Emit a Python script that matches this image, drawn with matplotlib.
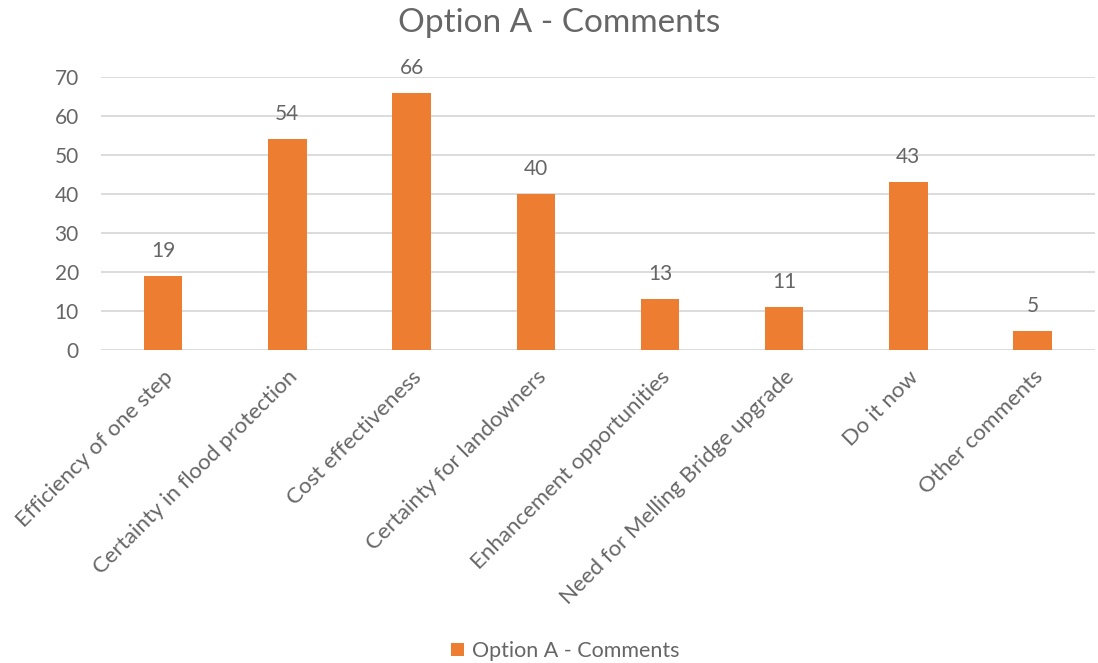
import matplotlib
matplotlib.use("Agg")
import matplotlib.pyplot as plt
from matplotlib.patches import Patch

categories = [
    "Efficiency of one step",
    "Certainty in flood protection",
    "Cost effectiveness",
    "Certainty for landowners",
    "Enhancement opportunities",
    "Need for Melling Bridge upgrade",
    "Do it now",
    "Other comments",
]
counts = [19, 54, 66, 40, 13, 11, 43, 5]
y_ticks = [0, 10, 20, 30, 40, 50, 60, 70]
series_name = "Option A - Comments"

bar_color = "#ED7D31"
text_color = "#666666"
grid_color = "#D9D9D9"

plt.rcParams["font.family"] = ["Lato", "DejaVu Sans"]

fig = plt.figure(figsize=(10.98, 6.63), dpi=100)
ax = fig.add_axes([0.092, 0.472, 0.905, 0.412])

x = list(range(len(categories)))
ax.bar(x, counts, width=0.31, color=bar_color, zorder=3)

for xi, v in zip(x, counts):
    ax.annotate(str(v), (xi, v), xytext=(0, 18), textcoords="offset points",
                ha="center", va="center", fontsize=15, color=text_color)

ax.set_xlim(-0.5, len(categories) - 0.5)
ax.set_ylim(0, 70)
ax.set_yticks(y_ticks)
ax.set_yticklabels([str(t) for t in y_ticks], fontsize=15, color=text_color)
ax.set_xticks(x)
ax.set_xticklabels(categories, rotation=45, ha="right",
                   rotation_mode="anchor", fontsize=16, color=text_color)
ax.tick_params(axis="both", length=0)
ax.tick_params(axis="y", pad=16)
ax.tick_params(axis="x", pad=12)
ax.grid(axis="y", color=grid_color, linewidth=1.3, zorder=0)
for s in ax.spines.values():
    s.set_visible(False)

fig.text(0.509, 0.965, series_name, ha="center", va="center",
         fontsize=24, color=text_color)

handle = Patch(facecolor=bar_color, edgecolor="none")
fig.legend([handle], [series_name], loc="center", bbox_to_anchor=(0.515, 0.018),
           frameon=False, fontsize=15.5, labelcolor=text_color,
           handlelength=0.6, handleheight=0.6, handletextpad=0.35)

fig.savefig("out.png", dpi=100, facecolor="white")
